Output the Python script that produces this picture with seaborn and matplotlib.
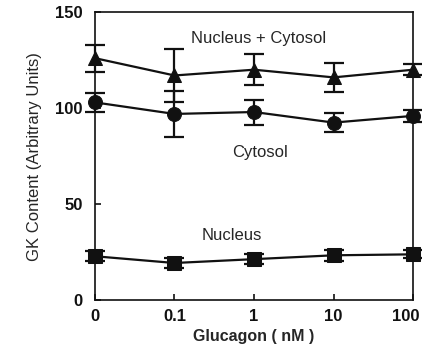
import numpy as np
import pandas as pd
import seaborn as sns
import matplotlib
matplotlib.use("Agg")
import matplotlib.pyplot as plt
import matplotlib.transforms as mtransforms

# values
doses = ["0", "0.1", "1", "10", "100"]
total_mean = [126, 117, 120, 116, 120]
total_err = [7, 14, 8, 7.5, 3]
cytosol_mean = [103, 97, 98, 92.5, 96]
cytosol_err = [5, 12, 6.5, 5, 3]
nucleus_mean = [23, 19.5, 21.5, 23.5, 24]
nucleus_err = [2.6, 2.5, 2.5, 3, 2]

sns.set_style("ticks")
plt.rcParams["font.family"] = ["Liberation Sans", "DejaVu Sans"]

pos = np.arange(len(doses))
data = pd.DataFrame({
    "pos": np.tile(pos, 3),
    "value": total_mean + cytosol_mean + nucleus_mean,
    "fraction": ["Nucleus + Cytosol"] * 5 + ["Cytosol"] * 5 + ["Nucleus"] * 5,
})

fig = plt.figure(figsize=(4.22, 3.48), dpi=100)
ax = fig.add_axes([0.225, 0.1365, 0.754, 0.829])

ink = "#111111"
sns.lineplot(data=data, x="pos", y="value", hue="fraction", style="fraction",
             markers={"Nucleus + Cytosol": "^", "Cytosol": "o", "Nucleus": "s"},
             dashes=False, palette=[ink, ink, ink], markersize=10,
             markeredgecolor=ink, linewidth=1.6, legend=False, ax=ax,
             clip_on=False, zorder=3)

#error bars from the read-off values
for mean, err in [(total_mean, total_err), (cytosol_mean, cytosol_err), (nucleus_mean, nucleus_err)]:
    ax.errorbar(pos, mean, yerr=err, fmt="none", ecolor=ink, elinewidth=1.6,
                capsize=7, capthick=1.6, clip_on=False, zorder=2)

ax.set_xlim(0, 4)
ax.set_ylim(0, 150)
ax.set_xticks(pos)
ax.set_xticklabels(doses)
ax.set_yticks([0, 50, 100, 150])
for s in ax.spines.values():
    s.set_linewidth(1.2)
    s.set_color(ink)
ax.tick_params(direction="in", length=4, width=1.2, labelsize=12, colors=ink)
ax.tick_params(axis="y", pad=9)
ax.tick_params(axis="x", pad=6)
for lab in ax.get_xticklabels() + ax.get_yticklabels():
    lab.set_fontweight("bold")
# last x label sits against the right edge
last = ax.get_xticklabels()[-1]
last.set_transform(last.get_transform() + mtransforms.ScaledTranslation(-5 / 72, 0, fig.dpi_scale_trans))

ax.set_xlabel("Glucagon ( nM )", fontsize=11.5, fontweight="bold", labelpad=4)
ax.set_ylabel("GK Content (Arbitrary Units)", fontsize=12, labelpad=9)

ax.text(2.06, 136, "Nucleus + Cytosol", ha="center", va="center", fontsize=12)
ax.text(2.07, 77, "Cytosol", ha="center", va="center", fontsize=12)
ax.text(1.72, 34, "Nucleus", ha="center", va="center", fontsize=12)

fig.savefig("out.png", dpi=100)
